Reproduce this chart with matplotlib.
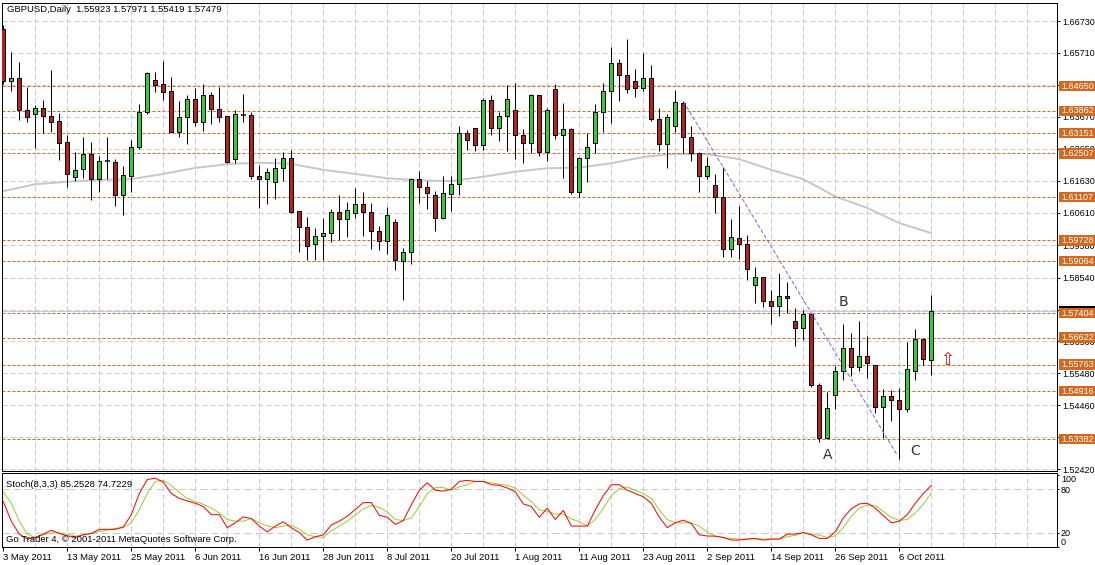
import numpy as np
import matplotlib
matplotlib.use('Agg')
import matplotlib.pyplot as plt
from matplotlib.patches import Rectangle

plt.rcParams['font.family'] = ['Liberation Sans', 'DejaVu Sans']
plt.rcParams['lines.scale_dashes'] = False

# ---------------- data ----------------
title_text = "GBPUSD,Daily  1.55923 1.57971 1.55419 1.57479"
stoch_text = "Stoch(8,3,3) 85.2528 74.7229"
copyright_text = "Go Trader 4, \u00a9 2001-2011 MetaQuotes Software Corp."

opens = [1.6647, 1.6481, 1.6490, 1.6388, 1.6375, 1.6394, 1.6369, 1.6353, 1.6286, 1.6174,
         1.6200, 1.6248, 1.6168, 1.6225, 1.6222, 1.6117, 1.6179, 1.6270, 1.6384, 1.6484,
         1.6471, 1.6449, 1.6320, 1.6366, 1.6423, 1.6352, 1.6436, 1.6391, 1.6369, 1.6232,
         1.6373, 1.6374, 1.6177, 1.6168, 1.6160, 1.6203, 1.6235, 1.6066, 1.6015, 1.5960,
         1.5986, 1.5995, 1.6062, 1.6040, 1.6059, 1.6088, 1.6062, 1.6002, 1.5970, 1.6031,
         1.5906, 1.5935, 1.6170, 1.6142, 1.6118, 1.6045, 1.6122, 1.6152, 1.6315, 1.6331,
         1.6278, 1.6420, 1.6331, 1.6369, 1.6388, 1.6308, 1.6283, 1.6436, 1.6256, 1.6455,
         1.6308, 1.6327, 1.6128, 1.6235, 1.6285, 1.6384, 1.6449, 1.6538, 1.6500, 1.6481,
         1.6458, 1.6490, 1.6359, 1.6279, 1.6337, 1.6410, 1.6302, 1.6253, 1.6177, 1.6149,
         1.6110, 1.5944, 1.5979, 1.5960, 1.5829, 1.5855, 1.5778, 1.5762, 1.5794, 1.5714,
         1.5692, 1.5737, 1.5510, 1.5341, 1.5479, 1.5555, 1.5628, 1.5568, 1.5603, 1.5574,
         1.5440, 1.5475, 1.5462, 1.5434, 1.5555, 1.5657, 1.55923]
highs = [1.6660, 1.6573, 1.6541, 1.6463, 1.6405, 1.6421, 1.6517, 1.6378, 1.6309, 1.6254,
         1.6302, 1.6286, 1.6242, 1.6302, 1.6232, 1.6210, 1.6292, 1.6407, 1.6509, 1.6511,
         1.6545, 1.6493, 1.6418, 1.6436, 1.6458, 1.6471, 1.6446, 1.6463, 1.6370, 1.6389,
         1.6440, 1.6384, 1.6213, 1.6203, 1.6237, 1.6254, 1.6261, 1.6066, 1.6048, 1.6011,
         1.6044, 1.6073, 1.6118, 1.6095, 1.6140, 1.6127, 1.6092, 1.6018, 1.6080, 1.6040,
         1.5948, 1.6173, 1.6194, 1.6162, 1.6131, 1.6179, 1.6178, 1.6338, 1.6325, 1.6331,
         1.6426, 1.6436, 1.6382, 1.6468, 1.6474, 1.6329, 1.6440, 1.6437, 1.6394, 1.6471,
         1.6410, 1.6331, 1.6240, 1.6315, 1.6408, 1.6474, 1.6591, 1.6552, 1.6616, 1.6519,
         1.6570, 1.6532, 1.6394, 1.6375, 1.6452, 1.6417, 1.6337, 1.6256, 1.6240, 1.6184,
         1.6206, 1.6040, 1.6083, 1.5989, 1.5887, 1.5856, 1.5813, 1.5868, 1.5839, 1.5756,
         1.5750, 1.5740, 1.5517, 1.5490, 1.5571, 1.5706, 1.5677, 1.5715, 1.5668, 1.5575,
         1.5497, 1.5494, 1.5501, 1.5649, 1.5690, 1.5658, 1.57971]
lows = [1.6472, 1.6451, 1.6356, 1.6352, 1.6269, 1.6315, 1.6320, 1.6229, 1.6144, 1.6163,
        1.6173, 1.6102, 1.6128, 1.6169, 1.6084, 1.6055, 1.6128, 1.6265, 1.6376, 1.6447,
        1.6421, 1.6318, 1.6304, 1.6282, 1.6338, 1.6323, 1.6345, 1.6352, 1.6219, 1.6221,
        1.6352, 1.6168, 1.6077, 1.6090, 1.6106, 1.6162, 1.6059, 1.5937, 1.5910, 1.5910,
        1.5910, 1.5969, 1.5974, 1.5985, 1.6045, 1.5988, 1.5946, 1.5943, 1.5930, 1.5879,
        1.5782, 1.5898, 1.6093, 1.6074, 1.6004, 1.6042, 1.6068, 1.6119, 1.6262, 1.6259,
        1.6262, 1.6310, 1.6291, 1.6259, 1.6233, 1.6221, 1.6253, 1.6243, 1.6227, 1.6295,
        1.6173, 1.6122, 1.6111, 1.6160, 1.6253, 1.6320, 1.6346, 1.6419, 1.6442, 1.6431,
        1.6449, 1.6355, 1.6259, 1.6205, 1.6320, 1.6251, 1.6227, 1.6128, 1.6170, 1.6059,
        1.5919, 1.5919, 1.5913, 1.5846, 1.5772, 1.5761, 1.5705, 1.5730, 1.5740, 1.5635,
        1.5654, 1.5504, 1.5329, 1.5338, 1.5434, 1.5526, 1.5539, 1.5555, 1.5533, 1.5421,
        1.5341, 1.5395, 1.5274, 1.5424, 1.5526, 1.5574, 1.55419]
closes = [1.6482, 1.6490, 1.6388, 1.6366, 1.6394, 1.6369, 1.6352, 1.6285, 1.6186, 1.6196,
          1.6248, 1.6168, 1.6225, 1.6225, 1.6117, 1.6181, 1.6270, 1.6384, 1.6506, 1.6470,
          1.6447, 1.6320, 1.6366, 1.6423, 1.6352, 1.6436, 1.6391, 1.6368, 1.6224, 1.6375,
          1.6373, 1.6177, 1.6168, 1.6190, 1.6203, 1.6235, 1.6064, 1.6015, 1.5954, 1.5986,
          1.5995, 1.6062, 1.6040, 1.6069, 1.6088, 1.6062, 1.6002, 1.5970, 1.6053, 1.5909,
          1.5935, 1.6170, 1.6142, 1.6125, 1.6045, 1.6124, 1.6153, 1.6315, 1.6294, 1.6278,
          1.6420, 1.6331, 1.6369, 1.6423, 1.6308, 1.6283, 1.6436, 1.6256, 1.6388, 1.6308,
          1.6327, 1.6128, 1.6235, 1.6270, 1.6384, 1.6449, 1.6538, 1.6500, 1.6455, 1.6458,
          1.6490, 1.6359, 1.6279, 1.6366, 1.6414, 1.6302, 1.6253, 1.6177, 1.6211, 1.6110,
          1.5944, 1.5983, 1.5960, 1.5881, 1.5855, 1.5778, 1.5762, 1.5794, 1.5788, 1.5692,
          1.5737, 1.5510, 1.5341, 1.5437, 1.5555, 1.5628, 1.5568, 1.5603, 1.5581, 1.5440,
          1.5475, 1.5462, 1.5434, 1.5561, 1.5657, 1.5593, 1.57479]

# moving average read at every 4th bar
ma_bars = list(range(0, 117, 4))
ma_values = [1.6130, 1.6152, 1.6160, 1.6166, 1.6168, 1.6185, 1.6204, 1.6216, 1.6221, 1.6217,
             1.6198, 1.6185, 1.6171, 1.6164, 1.6162, 1.6176, 1.6192, 1.6203, 1.6205, 1.6219,
             1.6239, 1.6249, 1.6248, 1.6232, 1.6198, 1.6168, 1.6113, 1.6076, 1.6028, 1.5996]

stoch_k = [62.9, 35.8, 17.8, 11, 13.2, 17.8, 23.2, 18.7, 15.5, 13.2,
           16.9, 18.7, 24.5, 24.5, 24.5, 27.7, 44.8, 74.1, 93.5, 95.3,
           89.9, 74.1, 67.4, 63.8, 60.6, 56.1, 44.8, 44.8, 26.8, 33.5,
           41.7, 39.4, 29, 20.9, 29, 34.9, 26.8, 20, 9.6, 14.1,
           16.9, 30.4, 35.8, 42.6, 52,
           61.5, 61.5, 43.9, 41.2, 31.3, 36.7, 58.3, 78.6, 89, 78.6,
           77.3, 80, 90.8, 92.2, 90.8, 90.8, 86.3, 85.4, 81.8, 76.4,
           59.7, 56.1, 41.2, 53.8, 38.1, 50.7, 29, 29, 29, 51.6,
           71, 86.3, 86.3, 78.6, 74.1, 69.6, 60.6, 41.2, 26.8, 33.5,
           37.2, 32.6, 16.9, 15.2,
           15, 13.2, 9.6, 9.6, 11, 11.9, 9.6, 11, 11, 17.8,
           17.8, 20, 16.9, 11.9, 11.9, 20.9, 40.3, 52.9, 59.7, 60.6,
           53.8, 43.5, 33.5, 35.8, 44.8, 60.6, 74.1, 85.2528]
stoch_d = [76.4, 60.6, 35.8, 17.8, 13.2, 16.9, 19.6, 19.6, 17.8, 15,
           16.9, 18.7, 21.4, 23.2, 25.9, 26.8, 33.5, 51.6, 74.1, 90.8,
           92.2, 85.4, 75.5, 67.4, 62.9, 59.3, 53.8, 47.1, 38.1, 35.8,
           35.8, 39.4, 33.5, 29, 26.8, 29, 30.4, 24.5, 16.9, 14.1,
           13.2, 22.3, 29, 35.8, 44,
           52.9, 57.4, 54.7, 48.4, 38.1, 36.7, 40.3, 56.1, 74.1, 82.3,
           82.3, 78.6, 83.2, 86.3, 90.8, 90.8, 89, 86.8, 85.4, 81.8,
           71.9, 62.9, 51.6, 49.3, 45.7, 45.7, 39, 34.9, 29, 38.1,
           53.8, 71, 80.9, 83.2, 78.6, 74.1, 67.4, 51.6, 38.1, 33.5,
           33.5, 33.5, 29, 20.5,
           15, 13.2, 11.9, 11, 11, 11, 11, 11, 11, 14.1,
           16.4, 19.6, 17.8, 16.4, 13.2, 15.5, 26.8, 42.6, 53.8, 58.3,
           57.4, 49.3, 41.2, 36.7, 38.1, 47.1, 59.3, 74.7229]

level_prices = [1.64650, 1.63862, 1.63151, 1.62507, 1.61107, 1.59728,
                1.59064, 1.57404, 1.56622, 1.55763, 1.54916, 1.53382]
level_labels = ["1.64650", "1.63862", "1.63151", "1.62507", "1.61107", "1.59728",
                "1.59064", "1.57404", "1.56622", "1.55763", "1.54916", "1.53382"]

price_ticks = [1.52420, 1.53440, 1.54460, 1.55480, 1.56500, 1.57520, 1.58540,
               1.59580, 1.60610, 1.61630, 1.62650, 1.63670, 1.64690, 1.65710, 1.66730]
# labels fully hidden behind level boxes in the reference are left blank
price_tick_labels = ["1.52420", "", "1.54460", "1.55480", "1.56500", "",
                     "1.58540", "1.59580", "1.60610", "1.61630", "1.62650", "1.63670",
                     "", "1.65710", "1.66730"]

date_labels = ["3 May 2011", "13 May 2011", "25 May 2011", "6 Jun 2011", "16 Jun 2011",
               "28 Jun 2011", "8 Jul 2011", "20 Jul 2011", "1 Aug 2011", "11 Aug 2011",
               "23 Aug 2011", "2 Sep 2011", "14 Sep 2011", "26 Sep 2011", "6 Oct 2011"]

trend_x = [85, 111.7]
trend_y = [1.6417, 1.5289]
wave_labels = ["A", "B", "C"]
wave_x = [103.0, 105.0, 114.0]
wave_y = [1.5288, 1.5775, 1.5301]

stoch_levels = [20, 80]
stoch_ticks = [0, 20, 80, 100]

# ---------------- figure ----------------
W, H = 1095, 565
PX = 72 / 100.0  # points per pixel
fig = plt.figure(figsize=(W / 100, H / 100), dpi=100)
fig.patch.set_facecolor('white')

ax = fig.add_axes([2 / W, (H - 471) / H, 1055 / W, 468 / H])
ax2 = fig.add_axes([2 / W, (H - 547) / H, 1055 / W, 74 / H])

n = len(opens)
idx = np.arange(n)
o = np.array(opens); hi = np.array(highs); lo = np.array(lows); c = np.array(closes)

xmin, xmax = -0.1625, 131.71
ax.set_xlim(xmin, xmax)
ax.set_ylim(1.52366, 1.67305)
ax2.set_xlim(xmin, xmax)
ax2.set_ylim(0, 102.5)

grid_col = '#c8c8e6'
grid_ls = (0, (5 * PX, 3 * PX))
for a in (ax, ax2):
    for gx in range(4, 132, 4):
        a.axvline(gx, color=grid_col, lw=PX, ls=grid_ls, zorder=1)
for gy in price_ticks:
    ax.axhline(gy, color=grid_col, lw=PX, ls=grid_ls, zorder=1)

# bid line
ax.axhline(c[-1], color=grid_col, lw=PX, zorder=1.5)

# moving average
ax.plot(ma_bars, ma_values, color='#c8c8c8', lw=2 * PX, zorder=2, solid_capstyle='round')

# horizontal level lines
orange = '#d2691e'
for lp in level_prices:
    ax.axhline(lp, color=orange, lw=PX, ls=(0, (3 * PX, 2 * PX)), zorder=2.5)

# candles
ax.vlines(idx, lo, hi, color='black', lw=PX, zorder=4)
up = c > o
dn = c < o
fl = c == o
ax.bar(idx[up], (c - o)[up], bottom=o[up], width=0.5, color='#32cd32',
       edgecolor='black', linewidth=PX, zorder=5)
ax.bar(idx[dn], (o - c)[dn], bottom=c[dn], width=0.5, color='#b22222',
       edgecolor='black', linewidth=PX, zorder=5)
ax.hlines(o[fl], idx[fl] - 0.3, idx[fl] + 0.3, color='black', lw=1.5 * PX, zorder=5)

# trend line
ax.plot(trend_x, trend_y, color='#7b68ee', lw=PX, ls=(0, (4 * PX, 2 * PX)), zorder=6)

# wave labels
for t, wx, wy in zip(wave_labels, wave_x, wave_y):
    ax.text(wx, wy, t, fontsize=10, color='#303030', ha='center', va='center',
            family=['DejaVu Sans'], zorder=7)

# buy arrow at last open
ax.text(n - 1 + 2, opens[-1], '\u21e7', color='red', fontsize=12, ha='center', va='center',
        family=['DejaVu Sans'], zorder=7)

# right axis
fs = 6.5
fs_title = 6.8
ax.yaxis.tick_right()
ax.set_yticks(price_ticks)
ax.set_yticklabels(price_tick_labels)
ax.tick_params(axis='y', direction='out', length=3 * PX, width=PX, pad=2.5 * PX, labelsize=fs)
ax.set_xticks([])
for s in ax.spines.values():
    s.set_linewidth(PX)
    s.set_color('black')

# level labels on axis
yx = ax.get_yaxis_transform()
hh = 5.2 / 3132.8
wfrac = 37 / 1055
ax.add_patch(Rectangle((1.0 + 2 / 1055, c[-1] - hh), wfrac, 2 * hh, transform=yx,
                       facecolor='black', edgecolor='none', clip_on=False, zorder=8))
for lp, lt in zip(level_prices, level_labels):
    ax.add_patch(Rectangle((1.0 + 2 / 1055, lp - hh), wfrac, 2 * hh, transform=yx,
                           facecolor=orange, edgecolor='none', clip_on=False, zorder=9))
    ax.text(1.0 + 4 / 1055, lp, lt, transform=yx, color='white', fontsize=fs,
            ha='left', va='center', clip_on=False, zorder=10)

# stochastic panel
for lv in stoch_levels:
    ax2.axhline(lv, color='#c8c8c8', lw=PX, ls=(0, (7 * PX, 4 * PX)), zorder=1.5)
ax2.plot(idx, stoch_d, color='#9acd32', lw=PX, zorder=3)
ax2.plot(idx, stoch_k, color='#ff0000', lw=PX, zorder=3)
ax2.yaxis.tick_right()
ax2.set_yticks(stoch_ticks)
ax2.set_yticklabels([str(v) for v in stoch_ticks])
ax2.tick_params(axis='y', direction='out', length=2 * PX, width=PX, pad=2 * PX, labelsize=fs)
for lbl, v in zip(ax2.get_yticklabels(), stoch_ticks):
    if v == 100:
        lbl.set_va('top')
    elif v == 0:
        lbl.set_va('bottom')
ax2.set_xticks(list(range(0, 8 * len(date_labels), 8)))
ax2.set_xticklabels(date_labels)
ax2.tick_params(axis='x', direction='out', length=4 * PX, width=PX, pad=1.5 * PX, labelsize=fs_title)
for lbl in ax2.get_xticklabels():
    lbl.set_ha('left')
for s in ax2.spines.values():
    s.set_linewidth(PX)
    s.set_color('black')

# texts
fig.text(7 / W, 1 - 9.5 / H, title_text, fontsize=fs_title, va='center', ha='left')
fig.text(6 / W, 1 - 484.5 / H, stoch_text, fontsize=fs_title, va='center', ha='left')
fig.text(6 / W, 1 - 540 / H, copyright_text, fontsize=fs_title, va='center', ha='left')

fig.savefig('out.png', dpi=100, facecolor='white')
